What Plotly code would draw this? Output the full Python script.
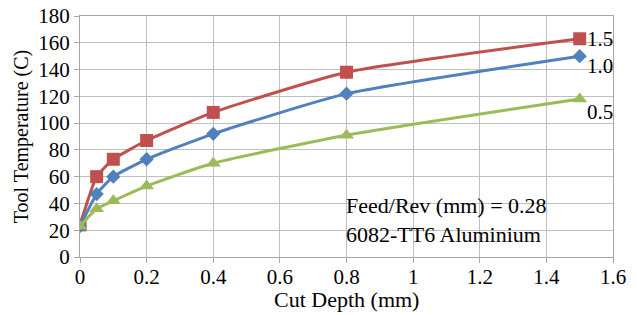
import plotly.graph_objects as go

cut_depth = [0, 0.05, 0.1, 0.2, 0.4, 0.8, 1.5]
temp_15 = [24, 60, 73, 87, 108, 138, 163]
temp_10 = [23, 47, 60, 73, 92, 122, 150]
temp_05 = [23, 36, 42, 53, 70, 91, 118]
series_names = ["1.5", "1.0", "0.5"]
label_y = [163, 143, 108]

FONT = "Liberation Serif, Times New Roman, serif"
colors = ["#C0504D", "#4F81BD", "#9BBB59"]
symbols = ["square", "diamond", "triangle-up"]
sizes = [13, 11, 13]

fig = go.Figure()
for ys, name, c, s, sz in zip([temp_15, temp_10, temp_05], series_names, colors, symbols, sizes):
    fig.add_trace(go.Scatter(
        x=cut_depth, y=ys, name=name, mode="lines+markers",
        line=dict(color=c, width=3, shape="spline", smoothing=0.5),
        marker=dict(symbol=s, size=sz, color=c),
        showlegend=False))

for name, ly in zip(series_names, label_y):
    fig.add_annotation(x=1.5, y=ly, text=name, showarrow=False, xanchor="left",
                       xshift=5, font=dict(family=FONT, size=21, color="black"))

fig.add_annotation(x=0.8, y=28, xref="x", yref="y", xanchor="left", yanchor="middle",
                   text="Feed/Rev (mm) = 0.28<br>6082-TT6 Aluminium", align="left",
                   showarrow=False, xshift=-3,
                   font=dict(family=FONT, size=22, color="black"))

# x-axis title placed as an annotation for precise positioning
fig.add_annotation(x=0.5, y=0, xref="paper", yref="paper", xanchor="center", yanchor="middle",
                   yshift=-42, text="Cut Depth (mm)", showarrow=False,
                   font=dict(family=FONT, size=22, color="black"))

fig.update_layout(
    width=637, height=315,
    margin=dict(l=80, r=24, t=16, b=58),
    paper_bgcolor="white", plot_bgcolor="white",
    font=dict(family=FONT, size=21, color="black"),
    hovermode=False,
)
fig.update_xaxes(
    range=[0, 1.6], dtick=0.2, tickformat="~g", automargin=False,
    ticklabeloverflow="allow", ticklabelstandoff=-4,
    showgrid=True, gridcolor="#BFBFBF", gridwidth=1,
    showline=True, linecolor="#A6A6A6", mirror=True, zeroline=False,
    ticks="outside", ticklen=5, tickcolor="#A6A6A6",
    tickfont=dict(size=21),
)
fig.update_yaxes(
    range=[0, 180], dtick=20, automargin=False,
    ticklabeloverflow="allow",
    showgrid=True, gridcolor="#BFBFBF", gridwidth=1,
    showline=True, linecolor="#A6A6A6", mirror=True, zeroline=False,
    ticks="outside", ticklen=5, tickcolor="#A6A6A6",
    title=dict(text="Tool Temperature (C)", standoff=4, font=dict(size=20)),
    tickfont=dict(size=21),
)

# remove the default 8px page margin so the figure sits at the window's top-left corner
fig.write_html("out.html", config={"displayModeBar": False},
               post_script="document.body.style.margin='0';")
